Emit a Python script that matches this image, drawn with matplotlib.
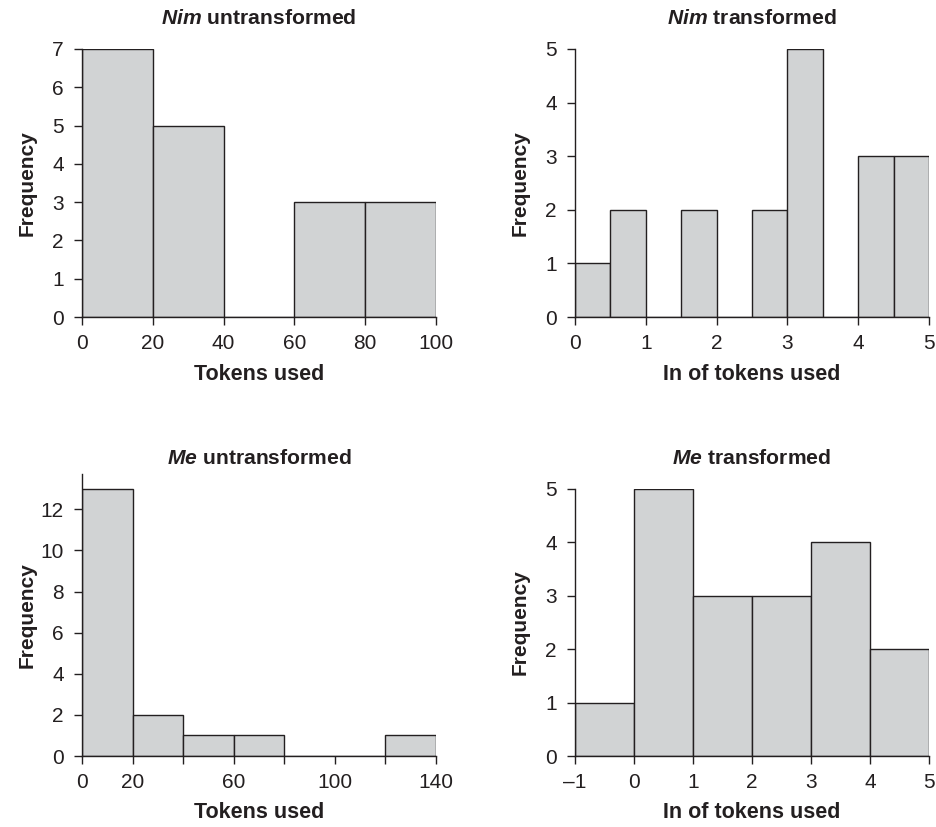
import numpy as np
import matplotlib.pyplot as plt

plt.rcParams['font.family'] = ['Liberation Sans', 'DejaVu Sans']
plt.rcParams['mathtext.fontset'] = 'custom'
plt.rcParams['mathtext.rm'] = 'Liberation Sans'
plt.rcParams['mathtext.it'] = 'Liberation Sans:italic'
plt.rcParams['mathtext.bf'] = 'Liberation Sans:bold'
plt.rcParams['mathtext.bfit'] = 'Liberation Sans:italic:bold'

# bin edges and counts
nim_raw_edges = [0, 20, 40, 60, 80, 100]
nim_raw_counts = [7, 5, 0, 3, 3]

nim_ln_edges = [0, 0.5, 1, 1.5, 2, 2.5, 3, 3.5, 4, 4.5, 5]
nim_ln_counts = [1, 2, 0, 2, 0, 2, 5, 0, 3, 3]

me_raw_edges = [0, 20, 40, 60, 80, 100, 120, 140]
me_raw_counts = [13, 2, 1, 1, 0, 0, 1]

me_ln_edges = [-1, 0, 1, 2, 3, 4, 5]
me_ln_counts = [1, 5, 3, 3, 4, 2]

ink = '#231f20'
fill = '#d1d3d4'

fig = plt.figure(figsize=(9.36, 8.27), dpi=100)

W, H = 936, 827


def make_axes(x0, x1, y_top, y_bot):
    return fig.add_axes([x0 / W, 1 - y_bot / H, (x1 - x0) / W, (y_bot - y_top) / H])


def draw(ax, edges, counts, ylim, yticks, xticks, xticklabels, title, xlabel, title_px, xlabel_px):
    edges = np.array(edges, dtype=float)
    ax.bar(edges[:-1], counts, width=np.diff(edges), align='edge',
           color=fill, edgecolor=ink, linewidth=1.0, zorder=2)
    ax.set_xlim(edges[0], edges[-1])
    ax.set_ylim(*ylim)
    ax.set_yticks(yticks)
    ax.set_yticklabels([str(t) for t in yticks])
    ax.set_xticks(xticks)
    ax.set_xticklabels(xticklabels)
    for s in ['top', 'right']:
        ax.spines[s].set_visible(False)
    for s in ['left', 'bottom']:
        ax.spines[s].set_color(ink)
        ax.spines[s].set_linewidth(1.0)
    ax.tick_params(direction='out', length=6, width=1.0, color=ink,
                   labelcolor=ink, labelsize=15)
    ax.tick_params(axis='x', pad=6)
    ax.tick_params(axis='y', pad=7)
    bb = ax.get_position()
    h_px = bb.height * H
    w_px = bb.width * W
    ax.text(0.5, 1 + title_px / h_px, title, transform=ax.transAxes,
            ha='center', va='center', fontsize=15.2, fontweight='bold', color=ink)
    ax.set_xlabel(xlabel, fontsize=15.5, fontweight='bold', color=ink, va='center')
    ax.xaxis.set_label_coords(0.5, -xlabel_px / h_px)
    ax.set_ylabel('Frequency', fontsize=15, fontweight='bold', color=ink, va='center')
    ax.yaxis.set_label_coords(-55 / w_px, 0.5)


ax1 = make_axes(82, 436, 49, 317)
draw(ax1, nim_raw_edges, nim_raw_counts, (0, 7), list(range(0, 8)),
     [0, 20, 40, 60, 80, 100], ['0', '20', '40', '60', '80', '100'],
     r'$\mathbfit{Nim}$ untransformed', 'Tokens used', 30, 57)

ax2 = make_axes(575, 929, 49, 317)
draw(ax2, nim_ln_edges, nim_ln_counts, (0, 5), list(range(0, 6)),
     [0, 1, 2, 3, 4, 5], ['0', '1', '2', '3', '4', '5'],
     r'$\mathbfit{Nim}$ transformed', 'In of tokens used', 30, 57)

ax3 = make_axes(82, 436, 474, 756)
draw(ax3, me_raw_edges, me_raw_counts, (0, 13.72), list(range(0, 13, 2)),
     [0, 20, 40, 60, 80, 100, 120, 140], ['0', '20', '', '60', '', '100', '', '140'],
     r'$\mathbfit{Me}$ untransformed', 'Tokens used', 16, 56)

ax4 = make_axes(575, 929, 488.7, 756)
draw(ax4, me_ln_edges, me_ln_counts, (0, 5), list(range(0, 6)),
     [-1, 0, 1, 2, 3, 4, 5], ['\u20131', '0', '1', '2', '3', '4', '5'],
     r'$\mathbfit{Me}$ transformed', 'In of tokens used', 30, 56)

fig.savefig('out.png', dpi=100)
